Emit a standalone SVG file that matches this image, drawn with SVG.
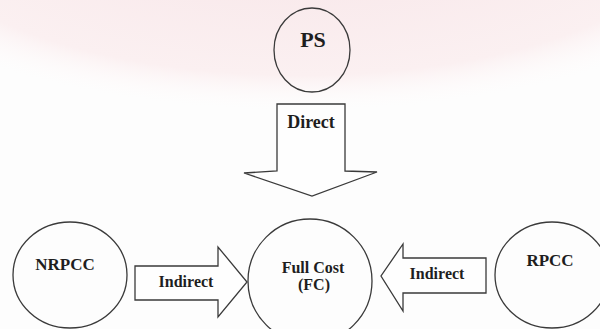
<svg xmlns="http://www.w3.org/2000/svg" width="600" height="329" viewBox="0 0 600 329">
  <defs>
    <radialGradient id="wm" cx="0.5" cy="0.3" r="0.6">
      <stop offset="0" stop-color="#f7e4e7"/>
      <stop offset="0.8" stop-color="#fbf0f1"/>
      <stop offset="1" stop-color="#ffffff" stop-opacity="0"/>
    </radialGradient>
  </defs>
  <style>
    .shape { fill: none; stroke: #3a3a3a; stroke-width: 1.3; }
    .arrow { fill: #ffffff; fill-opacity: 0.35; stroke: #3a3a3a; stroke-width: 1.3; stroke-linejoin: miter; }
    .lbl { font-family: "Liberation Serif", "Times New Roman", serif; font-weight: bold; fill: #1e1e1e; text-anchor: middle; }
  </style>
  <rect x="0" y="0" width="600" height="329" fill="#fdfdfd"/>
  <ellipse cx="300" cy="-20" rx="420" ry="170" fill="url(#wm)"/>

  <g id="connectors">
    <g id="edge-ps-fc">
      <polygon class="arrow" points="277,104 345,104 345,171 377,172 312,196 244,173 277,171"/>
      <text class="lbl" x="311" y="128" font-size="18">Direct</text>
    </g>
    <g id="edge-nrpcc-fc">
      <polygon class="arrow" points="135,266 218,266 218,247 247,282 218,317 218,300 135,300"/>
      <text class="lbl" x="186" y="287" font-size="16">Indirect</text>
    </g>
    <g id="edge-rpcc-fc">
      <polygon class="arrow" points="486,258 403,258 403,244 381,276 403,311 403,293 486,293"/>
      <text class="lbl" x="437" y="279" font-size="16">Indirect</text>
    </g>
  </g>

  <g id="node-ps">
    <ellipse class="shape" cx="312" cy="50" rx="38" ry="42"/>
    <text class="lbl" x="313" y="47" font-size="22">PS</text>
  </g>
  <g id="node-nrpcc">
    <ellipse class="shape" cx="70" cy="275" rx="57" ry="53"/>
    <text class="lbl" x="65" y="270" font-size="17">NRPCC</text>
  </g>
  <g id="node-fc">
    <circle class="shape" cx="310" cy="281" r="62"/>
    <text class="lbl" x="313" y="273" font-size="16">Full Cost</text>
    <text class="lbl" x="314" y="290" font-size="16">(FC)</text>
  </g>
  <g id="node-rpcc">
    <ellipse class="shape" cx="552" cy="275" rx="57" ry="53"/>
    <text class="lbl" x="550" y="266" font-size="17">RPCC</text>
  </g>
</svg>
